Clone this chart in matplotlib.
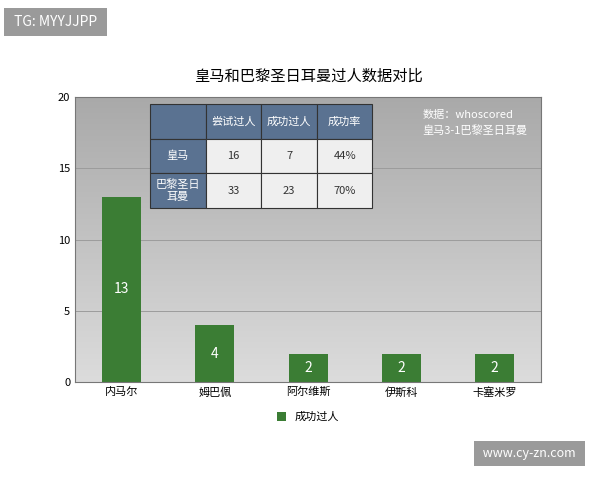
import matplotlib
matplotlib.use("Agg")
import matplotlib.pyplot as plt
import numpy as np

plt.rcParams["font.family"] = ["Noto Sans CJK SC", "DejaVu Sans"]

players = ["内马尔", "姆巴佩", "阿尔维斯", "伊斯科", "卡塞米罗"]
success = [13, 4, 2, 2, 2]
col_labels = ["", "尝试过人", "成功过人", "成功率"]
row_labels = ["皇马", "巴黎圣日\n耳曼"]
attempts = [16, 33]
succ_team = [7, 23]
rates = ["44%", "70%"]

fig = plt.figure(figsize=(6, 4.8), dpi=100)
ax = fig.add_axes([0.125, 0.204, 0.777, 0.594])

grad = np.linspace(0, 1, 256).reshape(-1, 1)
cmap = matplotlib.colors.LinearSegmentedColormap.from_list("g", ["#dcdcdc", "#a9a9a9"])
ax.imshow(grad, extent=[-0.5, 4.5, 0, 20], aspect="auto", cmap=cmap, origin="lower", zorder=0)
for y in [5, 10, 15]:
    ax.axhline(y, color="#9c9c9c", lw=0.7, zorder=1)

x = np.arange(len(players))
ax.bar(x, success, width=0.42, color="#3b7d34", zorder=2, label="成功过人")
for xi, v in zip(x, success):
    ax.text(xi, v / 2, str(v), ha="center", va="center", color="white", fontsize=10, zorder=3)

ax.set_xlim(-0.5, 4.5)
ax.set_ylim(0, 20)
ax.set_yticks([0, 5, 10, 15, 20])
ax.set_xticks(x)
ax.set_xticklabels(players, fontsize=8)
ax.tick_params(axis="y", labelsize=8, length=0)
ax.tick_params(axis="x", length=0)
for s in ax.spines.values():
    s.set_color("#777777")
    s.set_linewidth(0.8)
ax.set_title("皇马和巴黎圣日耳曼过人数据对比", fontsize=11, pad=12)

ax.legend(loc="upper center", bbox_to_anchor=(0.5, -0.07), frameon=False, fontsize=8, handlelength=0.8, handleheight=0.8)

cells = [[row_labels[i], str(attempts[i]), str(succ_team[i]), rates[i]] for i in range(2)]
tab = ax.table(cellText=[col_labels] + cells, bbox=[0.161, 0.61, 0.477, 0.365], zorder=4, cellLoc="center")
tab.auto_set_font_size(False)
for (r, c), cell in tab.get_celld().items():
    cell.set_edgecolor("#333333")
    cell.set_linewidth(0.8)
    cell.get_text().set_ha("center")
    if r == 0 or c == 0:
        cell.set_facecolor("#5a7291")
        cell.get_text().set_color("white")
    else:
        cell.set_facecolor("#efefef")
        cell.get_text().set_color("#333333")
    cell.get_text().set_fontsize(8)

ax.text(0.745, 0.955, "数据：whoscored\n皇马3-1巴黎圣日耳曼", transform=ax.transAxes, ha="left", va="top", fontsize=8, color="white", linespacing=1.6, zorder=5)

fig.text(0.018, 0.955, " TG: MYYJJPP ", fontsize=10, color="white", ha="left", va="center",
         bbox=dict(boxstyle="square,pad=0.5", fc="#9a9a9a", ec="none"))
fig.text(0.8, 0.055, " www.cy-zn.com ", fontsize=9, color="white", ha="left", va="center",
         bbox=dict(boxstyle="square,pad=0.5", fc="#9a9a9a", ec="none"))

fig.savefig("out.png", dpi=100, facecolor="white")
